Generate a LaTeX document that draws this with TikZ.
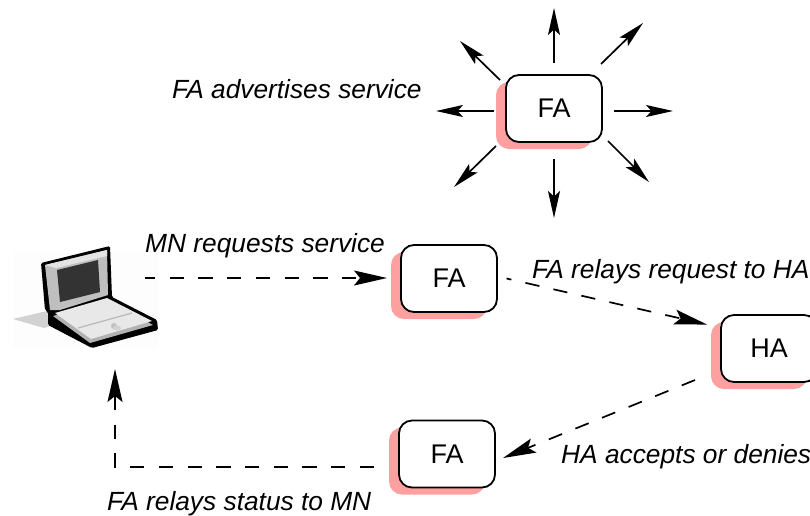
\documentclass[tikz,border=0pt]{standalone}
\usepackage{fontspec}
\setmainfont{Liberation Sans}
\usetikzlibrary{arrows.meta,calc}
\definecolor{shadowpink}{RGB}{255,160,160}
\tikzset{
  x=1pt,y=-1pt,
  agent/.style={draw=black,line width=1.8pt,rounded corners=13pt,fill=white,minimum width=96pt,minimum height=67pt,inner sep=0pt,font=\fontsize{27}{32}\selectfont},
  shade box/.style={fill=shadowpink,rounded corners=13pt},
  label/.style={font=\fontsize{26.3}{31}\selectfont\itshape,inner sep=0pt,anchor=base west},
  conn/.style={line width=1.7pt,-{Stealth[length=27pt,width=12pt,inset=5.5pt]}},
  dconn/.style={line width=1.7pt,-{Stealth[length=33pt,width=15pt,inset=6pt]},dash pattern=on 14.3pt off 14.4pt},
}
\newcommand{\agentbox}[4]{%
  \fill[shade box] (#2-48-10,#3-33.5+7) rectangle (#2+48-10,#3+33.5+7);
  \node[agent] (#1) at (#2,#3) {#4};}
\begin{document}
\begin{tikzpicture}
\useasboundingbox (0,0) rectangle (810,515);
\agentbox{top}{554}{108.5}{FA}
\agentbox{req}{449}{278.5}{FA}
\agentbox{ha}{769}{348.5}{HA}
\agentbox{st}{447}{454}{FA}
% laptop
\fill[black!0.6] (13,253) rectangle (158,348);
\fill[gray!35] (13,319) -- (47,311) -- (50,326) -- (44,328) -- cycle;
\fill[black,rounded corners=1.5pt] (41,263) -- (110,246) -- (112,297) -- (157,320) -- (158,330) -- (92,348) -- (48,325) -- (48,312) -- (45,310) -- cycle;
\fill[gray!50] (45,265) -- (107,250) -- (108,295) -- (60,310) -- (50,310) -- cycle;
\fill[gray!22] (45,265) -- (107,250) -- (107,256) -- (56,268) -- cycle;
\fill[black!80] (57,270) -- (98,260) -- (100,292) -- (60,302) -- cycle;
\fill[gray!60] (53,316) -- (107,299) -- (153,325) -- (90,343) -- cycle;
\fill[gray!18] (55,313) -- (107,298) -- (152,321) -- (91,339) -- cycle;
\draw[gray!55,line width=1.2pt] (78,328) -- (132,313);
\fill[gray!50] (114,326) ellipse (3pt and 3pt);
\fill[gray!35] (117,328) ellipse (4pt and 2.5pt);
\node[inner sep=0pt,minimum width=145pt,minimum height=95pt] (mn) at (85.5,300.5) {};
% radiating arrows
\coordinate (n0) at (554,63);  \coordinate (n1) at (554,8);
\coordinate (ne0) at (601,64); \coordinate (ne1) at (643,23);
\coordinate (e0) at (614,111); \coordinate (e1) at (673,111);
\coordinate (se0) at (608,141);\coordinate (se1) at (649,182);
\coordinate (s0) at (554,159); \coordinate (s1) at (554,218);
\coordinate (sw0) at (496,146);\coordinate (sw1) at (454,187);
\coordinate (w0) at (494,111); \coordinate (w1) at (436,111);
\coordinate (nw0) at (500,80); \coordinate (nw1) at (460,41);
\foreach \d in {n,ne,e,se,s,sw,w,nw} \draw[conn] (\d0) -- (\d1);
% dashed connectors
\coordinate (mnout) at (145,278);
\coordinate (reqin) at (387,278);
\coordinate (reqout) at (506.5,278.5);
\coordinate (hain) at (707,324.5);
\coordinate (haout) at (695,380);
\coordinate (stin) at (503,458);
\coordinate (stout) at (374,467);
\coordinate (bend) at (115,467);
\coordinate (mnin) at (115,369);
\draw[dconn,dash phase=4pt] (mnout) -- (reqin);
\draw[dconn,dash phase=9.3pt] (reqout) -- (hain);
\draw[dconn] (haout) -- (stin);
\draw[dconn] (stout) -- (bend) -- (mnin);
% labels
\node[label] (l1) at (172,98) {FA advertises service};
\node[label] (l2) at (145,252) {MN requests service};
\node[label] (l3) at (532,278) {FA relays request to HA};
\node[label] (l4) at (561,463) {HA accepts or denies};
\node[label] (l5) at (107,510) {FA relays status to MN};
\end{tikzpicture}
\end{document}
